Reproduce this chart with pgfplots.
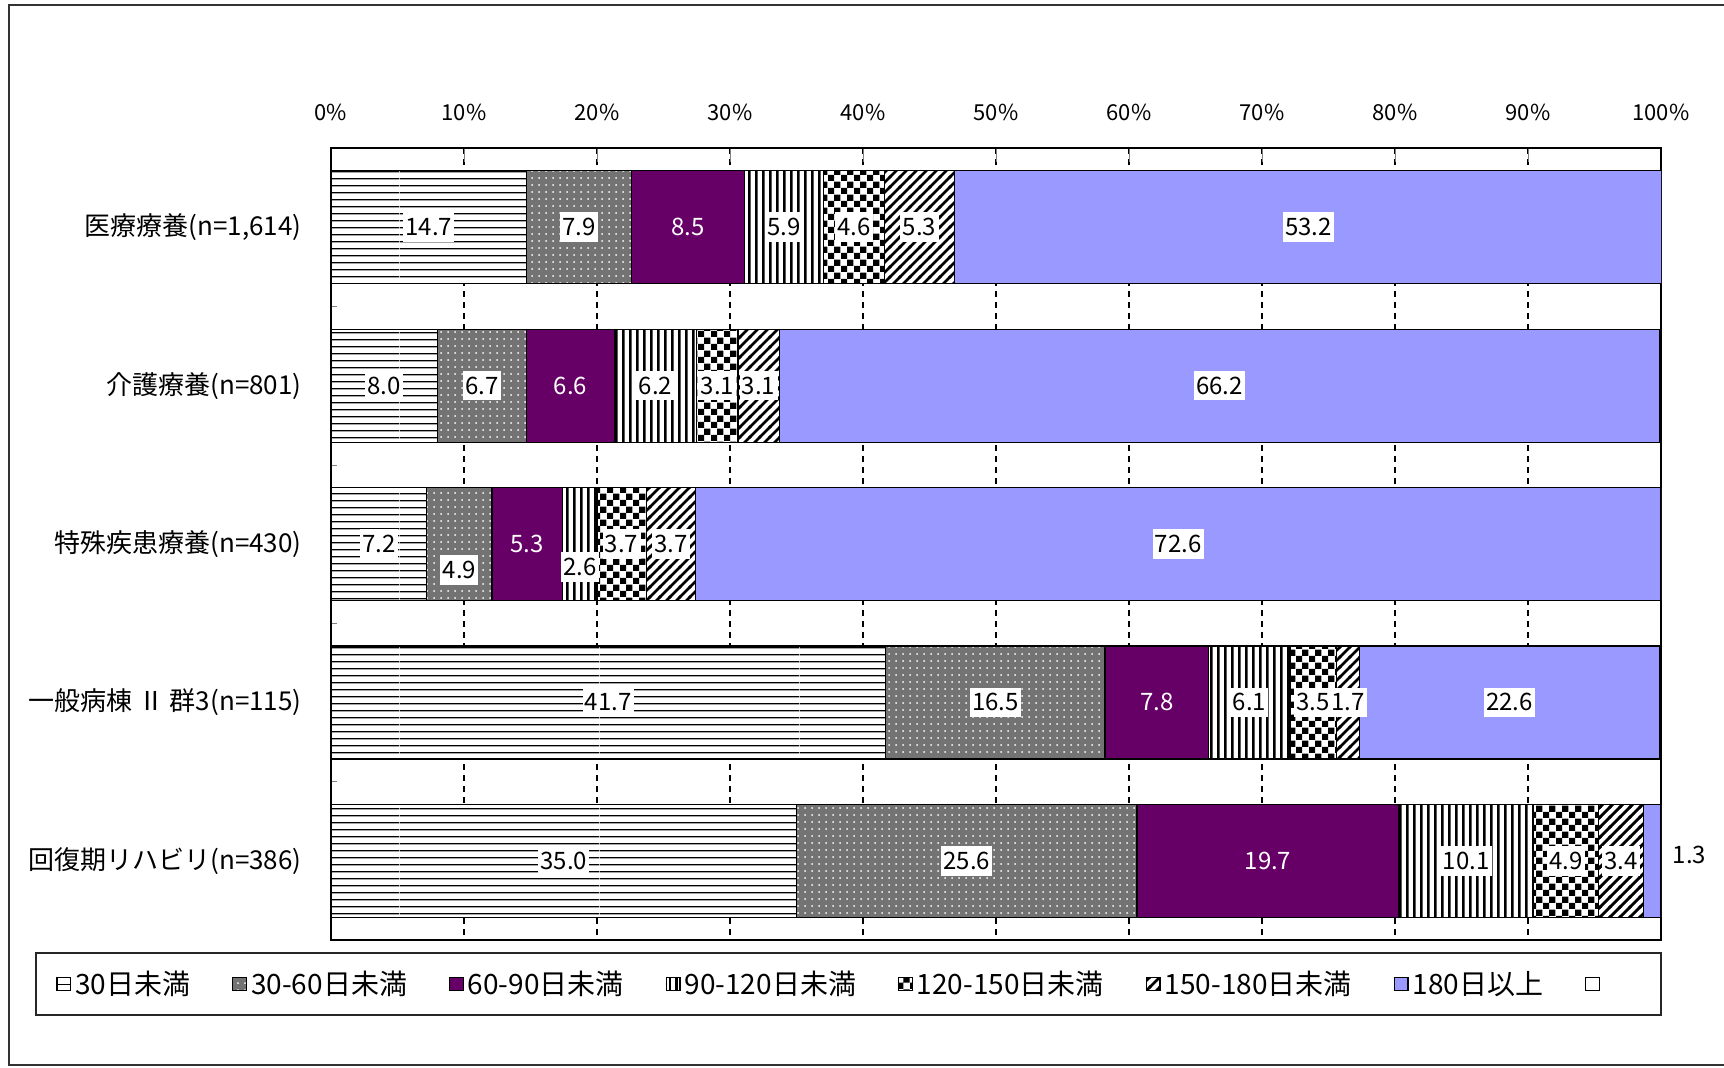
\documentclass[border=0pt]{standalone}
\usepackage{fontspec}
\setmainfont{Noto Sans CJK JP}
\usepackage{pgfplots}
\pgfplotsset{compat=1.18}
\pgfplotsset{/pgf/number format/assume math mode=true}
\usepackage{pgfplotstable}
\usetikzlibrary{patterns}
\definecolor{cpurple}{HTML}{660066}
\definecolor{cblue}{HTML}{9999FF}
\pgfdeclarepatternformonly{checker}{\pgfqpoint{0pt}{0pt}}{\pgfqpoint{6.6pt}{6.6pt}}{\pgfqpoint{6.6pt}{6.6pt}}{%
  \pgfpathrectangle{\pgfqpoint{0pt}{0pt}}{\pgfqpoint{3.3pt}{3.3pt}}%
  \pgfpathrectangle{\pgfqpoint{3.3pt}{3.3pt}}{\pgfqpoint{3.3pt}{3.3pt}}%
  \pgfusepath{fill}}
\pgfdeclarepatternformonly{wdots}{\pgfqpoint{-1pt}{-1pt}}{\pgfqpoint{1pt}{1pt}}{\pgfqpoint{3.5pt}{3.5pt}}{%
  \pgfpathcircle{\pgfqpoint{0pt}{0pt}}{0.5pt}\pgfusepath{fill}}
\pgfdeclarepatternformonly{hl}{\pgfpointorigin}{\pgfqpoint{100pt}{3.6pt}}{\pgfqpoint{100pt}{3.6pt}}{%
  \pgfsetlinewidth{0.7pt}\pgfpathmoveto{\pgfqpoint{0pt}{1.8pt}}\pgfpathlineto{\pgfqpoint{100pt}{1.8pt}}\pgfusepath{stroke}}
\pgfdeclarepatternformonly{vl}{\pgfpointorigin}{\pgfqpoint{3.4pt}{100pt}}{\pgfqpoint{3.4pt}{100pt}}{%
  \pgfsetlinewidth{1.3pt}\pgfpathmoveto{\pgfqpoint{1.7pt}{0pt}}\pgfpathlineto{\pgfqpoint{1.7pt}{100pt}}\pgfusepath{stroke}}
\pgfdeclarepatternformonly{nel}{\pgfqpoint{-1pt}{-1pt}}{\pgfqpoint{6pt}{6pt}}{\pgfqpoint{5pt}{5pt}}{%
  \pgfsetlinewidth{1.4pt}\pgfpathmoveto{\pgfqpoint{-0.5pt}{-0.5pt}}\pgfpathlineto{\pgfqpoint{5.5pt}{5.5pt}}\pgfusepath{stroke}}
\tikzset{
  bstyle/.style={draw=black, line width=0.6pt},
  phl/.style={postaction={pattern=hl}},
  pvl/.style={postaction={pattern=vl}},
  pnel/.style={postaction={pattern=nel}},
  pchk/.style={postaction={pattern=checker}},
  pdot/.style={postaction={pattern=wdots, pattern color=white}},
}

\pgfplotstableread{
idx v1 v2 v3 v4 v5 v6 v7
0 14.7 7.9 8.5 5.9 4.6 5.3 53.2
1 8.0 6.7 6.6 6.2 3.1 3.1 66.2
2 7.2 4.9 5.3 2.6 3.7 3.7 72.6
3 41.7 16.5 7.8 6.1 3.5 1.7 22.6
4 35.0 25.6 19.7 10.1 4.9 3.4 1.3
}\data

\pgfplotsset{
  common/.style={at={(165.5pt,63.5pt)}, anchor=south west,
    scale only axis, width=665pt, height=396pt,
    xmin=0, xmax=100, ymin=-0.5, ymax=4.5, y dir=reverse},
}
\newcommand\lab[4]{%
\addplot[draw=none, mark=none, #4] table[x expr={#2}, y expr={#3}, meta=#1]{\data};}

\begin{document}
\begin{tikzpicture}
\path[use as bounding box] (0,0) rectangle (862pt,533.5pt);
\begin{axis}[common,
  xbar stacked, bar width=56.5pt,
  axis line style={black, line width=0.6pt},
  xtick={0,10,...,100},
  xticklabel={\pgfmathprintnumber{\tick}\%},
  xtick pos=upper, xticklabel pos=upper,
  tick align=inside,
  major tick length=7pt,
  xmajorgrids,
  major grid style={black, line width=0.6pt, dash pattern=on 3pt off 2.5pt},
  xticklabel style={font=\fontsize{11}{13}\selectfont, inner sep=0pt, anchor=south, yshift=13.5pt},
  ytick={0,1,2,3,4},
  yticklabels={{医療療養(n=1,614)},{介護療養(n=801)},{特殊疾患療養(n=430)},{一般病棟 Ⅱ 群3(n=115)},{回復期リハビリ(n=386)}},
  minor ytick={0.5,1.5,2.5,3.5},
  ytick pos=left,
  yticklabel style={font=\fontsize{13}{15}\selectfont, inner sep=0pt, anchor=east, xshift=-14.5pt},
  area legend,
  legend image post style={xscale=0.4, yscale=1.2},
  legend columns=-1,
  legend style={draw=none, fill=none, inner sep=0pt,
     at={(-0.2068,-0.0556)}, anchor=west,
     font=\fontsize{14}{16}\selectfont,
     /tikz/every even column/.append style={column sep=19pt}},
]
\addplot[bstyle, fill=white, phl] table[x=v1, y=idx]{\data};
\addlegendentry{30日未満}
\addplot[bstyle, fill=black!55, pdot] table[x=v2, y=idx]{\data};
\addlegendentry{30-60日未満}
\addplot[bstyle, fill=cpurple] table[x=v3, y=idx]{\data};
\addlegendentry{60-90日未満}
\addplot[bstyle, fill=white, pvl] table[x=v4, y=idx]{\data};
\addlegendentry{90-120日未満}
\addplot[bstyle, fill=white, pchk] table[x=v5, y=idx]{\data};
\addlegendentry{120-150日未満}
\addplot[bstyle, fill=white, pnel] table[x=v6, y=idx]{\data};
\addlegendentry{150-180日未満}
\addplot[bstyle, fill=cblue] table[x=v7, y=idx]{\data};
\addlegendentry{180日以上}
\addlegendimage{area legend, draw=black, fill=white, line width=0.6pt}
\addlegendentry{\mbox{}}
\end{axis}
\begin{axis}[common, hide axis, clip=false,
  point meta=explicit,
  nodes near coords={\pgfmathprintnumber[fixed,fixed zerofill,precision=1]{\pgfplotspointmeta}},
  every node near coord/.style={anchor=center,
     font=\fontsize{12}{14}\selectfont, fill=white, text=black,
     inner xsep=1.2pt, inner ysep=3pt},
]
\lab{v1}{\thisrow{v1}/2}{\thisrow{idx}}{}
\lab{v2}{\thisrow{v1}+\thisrow{v2}/2}{\thisrow{idx}+0.164*(\thisrow{idx}==2)}{}
\lab{v3}{\thisrow{v1}+\thisrow{v2}+\thisrow{v3}/2}{\thisrow{idx}}{every node near coord/.append style={fill=none, text=white}}
\lab{v4}{\thisrow{v1}+\thisrow{v2}+\thisrow{v3}+\thisrow{v4}/2}{\thisrow{idx}+0.145*(\thisrow{idx}==2)}{}
\lab{v5}{\thisrow{v1}+\thisrow{v2}+\thisrow{v3}+\thisrow{v4}+\thisrow{v5}/2}{\thisrow{idx}}{}
\lab{v6}{\thisrow{v1}+\thisrow{v2}+\thisrow{v3}+\thisrow{v4}+\thisrow{v5}+\thisrow{v6}/2}{\thisrow{idx}}{}
\lab{v7}{\thisrow{v1}+\thisrow{v2}+\thisrow{v3}+\thisrow{v4}+\thisrow{v5}+\thisrow{v6}+\thisrow{v7}/2+2.78*(\thisrow{idx}==4)}{\thisrow{idx}-0.04*(\thisrow{idx}==4)}{}
\end{axis}
\begin{scope}[x=0.5pt,y=0.5pt]
\draw[black!80, line width=1pt] (1724,1062) -- (9,1062) -- (9,2) -- (1724,2);
\draw[black!85, line width=1pt] (36,52) rectangle (1661,114);
\end{scope}
\end{tikzpicture}
\end{document}
